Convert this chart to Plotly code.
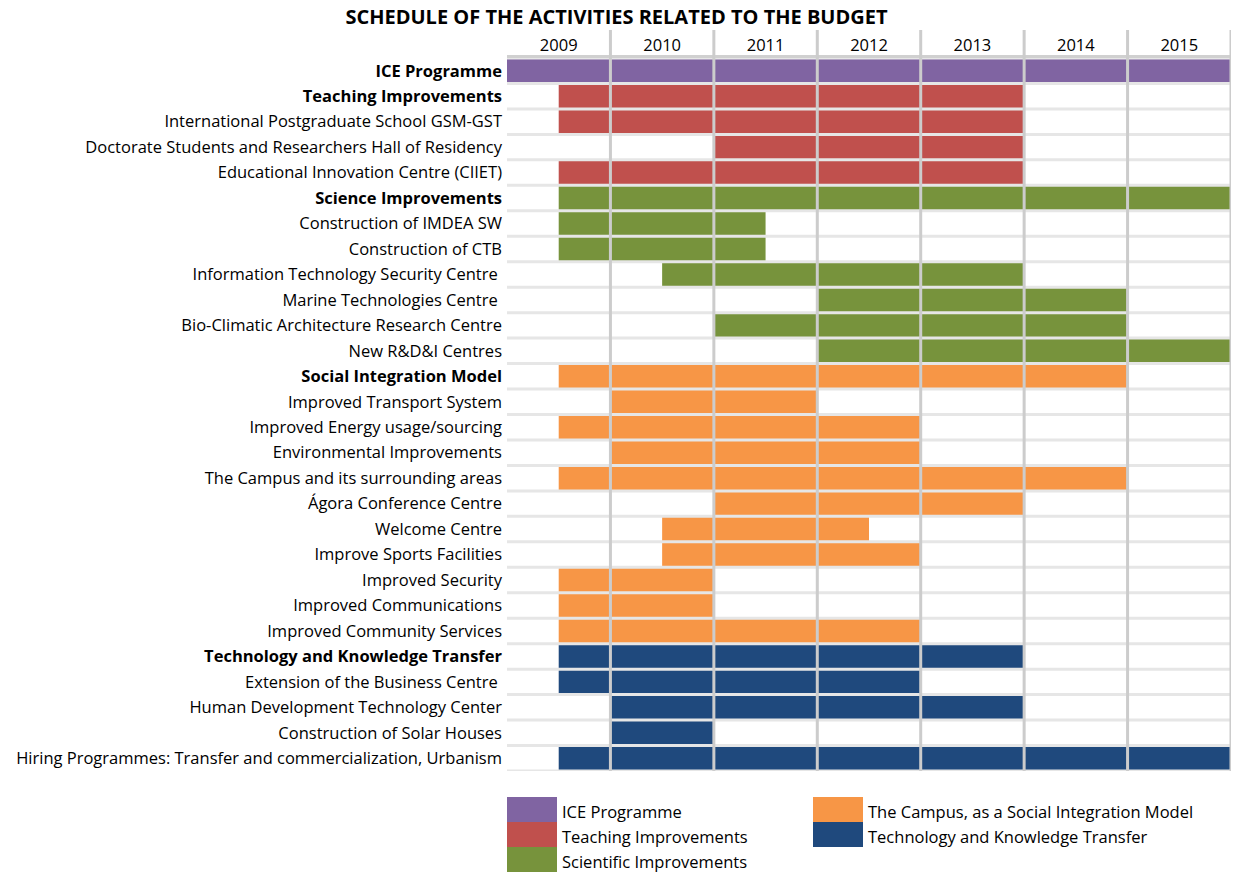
import plotly.graph_objects as go

title = "SCHEDULE OF THE ACTIVITIES RELATED TO THE BUDGET"
years = [2009, 2010, 2011, 2012, 2013, 2014, 2015]

activities = [
    "ICE Programme",
    "Teaching Improvements",
    "International Postgraduate School GSM-GST",
    "Doctorate Students and Researchers Hall of Residency",
    "Educational Innovation Centre (CIIET)",
    "Science Improvements",
    "Construction of IMDEA SW",
    "Construction of CTB",
    "Information Technology Security Centre ",
    "Marine Technologies Centre ",
    "Bio-Climatic Architecture Research Centre",
    "New R&D&I Centres",
    "Social Integration Model",
    "Improved Transport System",
    "Improved Energy usage/sourcing",
    "Environmental Improvements",
    "The Campus and its surrounding areas",
    "Ágora Conference Centre",
    "Welcome Centre",
    "Improve Sports Facilities",
    "Improved Security",
    "Improved Communications",
    "Improved Community Services",
    "Technology and Knowledge Transfer",
    "Extension of the Business Centre ",
    "Human Development Technology Center",
    "Construction of Solar Houses",
    "Hiring Programmes: Transfer and commercialization, Urbanism",
]
is_header = [1, 1, 0, 0, 0, 1, 0, 0, 0, 0, 0, 0, 1, 0, 0, 0, 0, 0, 0, 0, 0, 0, 0, 1, 0, 0, 0, 0]
start = [2009.0, 2009.5, 2009.5, 2011.0, 2009.5, 2009.5, 2009.5, 2009.5, 2010.5, 2012.0,
         2011.0, 2012.0, 2009.5, 2010.0, 2009.5, 2010.0, 2009.5, 2011.0, 2010.5, 2010.5,
         2009.5, 2009.5, 2009.5, 2009.5, 2009.5, 2010.0, 2010.0, 2009.5]
end = [2016.0, 2014.0, 2014.0, 2014.0, 2014.0, 2016.0, 2011.5, 2011.5, 2014.0, 2015.0,
       2015.0, 2016.0, 2015.0, 2012.0, 2013.0, 2013.0, 2015.0, 2014.0, 2012.5, 2013.0,
       2011.0, 2011.0, 2013.0, 2014.0, 2013.0, 2014.0, 2011.0, 2016.0]
group = [0, 1, 1, 1, 1, 2, 2, 2, 2, 2, 2, 2, 3, 3, 3, 3, 3, 3, 3, 3, 3, 3, 3, 4, 4, 4, 4, 4]

group_names = ["ICE Programme", "Teaching Improvements", "Scientific Improvements",
               "The Campus, as a Social Integration Model", "Technology and Knowledge Transfer"]
group_colors = ["#8064A2", "#C0504D", "#77933C", "#F79646", "#1F497D"]

FONT = "Open Sans"
FS = 16.5
n = len(activities)

fig = go.Figure()
for g, (gname, gcol) in enumerate(zip(group_names, group_colors)):
    idx = [i for i in range(n) if group[i] == g]
    fig.add_trace(go.Bar(
        orientation="h",
        y=idx,
        base=[start[i] for i in idx],
        x=[end[i] - start[i] for i in idx],
        width=1.0,
        marker=dict(color=gcol, line=dict(width=0)),
        name=gname,
        showlegend=False,
        hoverinfo="skip",
    ))

ticktext = [("<b>%s</b>" % a) if h else a for a, h in zip(activities, is_header)]

L, R, T, B = 507, 2, 58, 101
W, H = 1233, 872
ph = H - T - B
pw = W - L - R

shapes = []
# horizontal row separators
for k in range(n + 1):
    shapes.append(dict(type="line", xref="paper", yref="y", x0=0, x1=1,
                       y0=k - 0.5, y1=k - 0.5, layer="above",
                       line=dict(color="#E6E6E6", width=3)))
# top header line
shapes.append(dict(type="line", xref="paper", yref="paper", x0=0, x1=1,
                   y0=1 + 1.5 / ph, y1=1 + 1.5 / ph, layer="above",
                   line=dict(color="#D0D0D0", width=3)))
# vertical year lines
for yv in years[1:] + [years[-1] + 1]:
    shapes.append(dict(type="line", xref="x", yref="paper", x0=yv, x1=yv,
                       y0=0, y1=1 + 28 / ph, layer="above",
                       line=dict(color="#CCCCCC", width=3)))

# legend (custom swatches)
annotations = []
leg_pos = [(507, 797), (507, 822), (507, 847), (813, 797), (813, 822)]
for (lx, ly), gname, gcol in zip(leg_pos, group_names, group_colors):
    x0 = (lx - L) / pw
    x1 = (lx + 50 - L) / pw
    y0 = (H - B - ly) / ph
    y1 = (H - B - ly - 25) / ph
    shapes.append(dict(type="rect", xref="paper", yref="paper", x0=x0, x1=x1,
                       y0=y1, y1=y0, fillcolor=gcol, line=dict(width=0)))
    annotations.append(dict(xref="paper", yref="paper", x=(lx + 53 - L) / pw,
                            y=(H - B - ly - 14) / ph, text=gname, showarrow=False,
                            xanchor="left", yanchor="middle",
                            font=dict(family=FONT, size=FS, color="#000000")))

fig.update_layout(
    width=W, height=H,
    margin=dict(l=L, r=R, t=T, b=B),
    plot_bgcolor="white", paper_bgcolor="white",
    barmode="overlay",
    title=dict(text="<b>%s</b>" % title, x=0.5, xanchor="center", y=1 - 17 / H,
               yanchor="middle", font=dict(family=FONT, size=20, color="#000000")),
    xaxis=dict(range=[2009, 2016], side="top", tickvals=[y + 0.5 for y in years],
               ticktext=[str(y) for y in years], showgrid=False, zeroline=False,
               showline=False, ticks="", ticklabelstandoff=3,
               tickfont=dict(family=FONT, size=FS, color="#000000")),
    yaxis=dict(range=[n - 0.5, -0.5], tickvals=list(range(n)), ticktext=ticktext,
               showgrid=False, zeroline=False, showline=False, ticks="",
               ticklabelstandoff=4,
               tickfont=dict(family=FONT, size=FS, color="#000000")),
    shapes=shapes,
    annotations=annotations,
    showlegend=False,
)

fig.write_html("out.html", config={"displayModeBar": False},
               post_script="document.body.style.margin='0';document.body.style.overflow='hidden';")
